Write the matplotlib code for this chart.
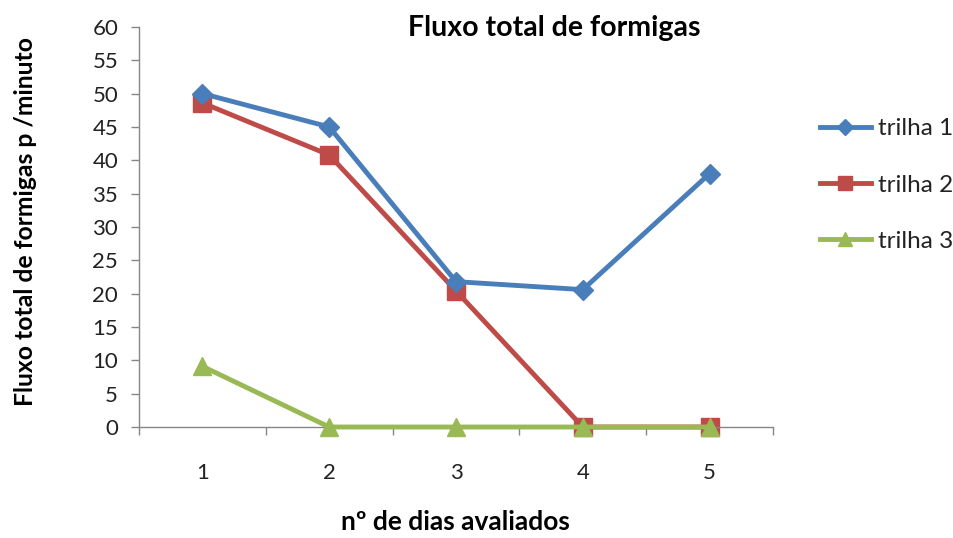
import matplotlib
matplotlib.use("Agg")
import matplotlib.pyplot as plt
from matplotlib.ticker import FixedLocator

days = [1, 2, 3, 4, 5]
trilha1 = [50, 45, 21.8, 20.6, 38]
trilha2 = [48.6, 40.8, 20.4, 0, 0]
trilha3 = [9.1, 0, 0, 0, 0]
series_names = ["trilha 1", "trilha 2", "trilha 3"]
y_ticks = list(range(0, 61, 5))

FONT = "Lato"
fig = plt.figure(figsize=(9.54, 5.38), dpi=100)
ax = fig.add_axes([0.1457, 0.2063, 0.8103 - 0.1457, 0.95 - 0.2063])

blue, red, green = "#4A7EBB", "#BE4B48", "#98B954"
ax.plot(days, trilha1, color=blue, lw=3.5, marker="D", ms=10, label=series_names[0],
        zorder=3, clip_on=False)
ax.plot(days, trilha2, color=red, lw=3.5, marker="s", ms=13, label=series_names[1],
        zorder=2, clip_on=False)
ax.plot(days, trilha3, color=green, lw=3.5, marker="^", ms=13, label=series_names[2],
        zorder=4, clip_on=False)

ax.set_xlim(0.5, 5.5)
ax.set_ylim(0, 60)
ax.set_yticks(y_ticks)
ax.set_xticks(days)
ax.xaxis.set_minor_locator(FixedLocator([0.5 + i for i in range(6)]))
ax.tick_params(axis="x", which="major", length=0, pad=26, labelsize=16, labelcolor="#222222")
ax.tick_params(axis="x", which="minor", length=6, width=1, color="#868686")
ax.tick_params(axis="y", length=6, width=1, color="#868686", pad=9, labelsize=16, labelcolor="#222222")
for lab in ax.get_xticklabels() + ax.get_yticklabels():
    lab.set_fontfamily(FONT)

for side in ("top", "right"):
    ax.spines[side].set_visible(False)
for side in ("left", "bottom"):
    ax.spines[side].set_color("#868686")
    ax.spines[side].set_linewidth(1)

fig.text(0.581, 0.948, "Fluxo total de formigas", ha="center", va="center",
         fontsize=20.5, fontweight="bold", family=FONT)
fig.text(0.027, 0.589, "Fluxo total de formigas p /minuto", ha="center", va="center",
         rotation=90, fontsize=17.8, fontweight="bold", family=FONT)
fig.text(0.477, 0.03, "nº de dias avaliados", ha="center", va="center",
         fontsize=19, fontweight="bold", family=FONT)

leg = ax.legend(loc="center left", bbox_to_anchor=(0.8595, 0.656), bbox_transform=fig.transFigure,
                frameon=False, prop={"family": FONT, "size": 17.5}, handlelength=2.1,
                handletextpad=0.3, labelspacing=1.45, borderpad=0, borderaxespad=0,
                markerscale=0.8)
for t in leg.get_texts():
    t.set_color("#222222")

fig.savefig("out.png", dpi=100, facecolor="white")
